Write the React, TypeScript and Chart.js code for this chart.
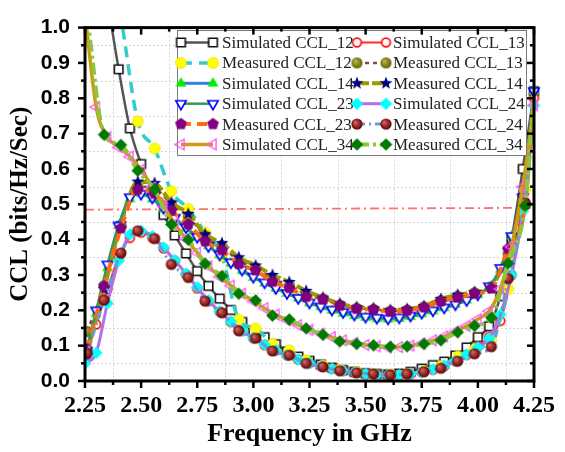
import React, { useEffect, useRef } from 'react';
import { Chart, registerables } from 'chart.js';

Chart.register(...registerables);

// ---------- data ----------
const freqSim = [2.25, 2.30, 2.35, 2.40, 2.45, 2.50, 2.55, 2.60, 2.65, 2.70, 2.75, 2.80, 2.85, 2.90, 2.95, 3.00, 3.05, 3.10, 3.15, 3.20, 3.25, 3.30, 3.35, 3.40, 3.45, 3.50, 3.55, 3.60, 3.65, 3.70, 3.75, 3.80, 3.85, 3.90, 3.95, 4.00, 4.05, 4.10, 4.15, 4.20, 4.25];
const freqMeas = [2.26, 2.335, 2.41, 2.485, 2.56, 2.635, 2.71, 2.785, 2.86, 2.935, 3.01, 3.085, 3.16, 3.235, 3.31, 3.385, 3.46, 3.535, 3.61, 3.685, 3.76, 3.835, 3.91, 3.985, 4.06, 4.135, 4.21, 4.25];

const simCCL12 = [1.5, 1.3, 1.08, 0.882, 0.715, 0.614, 0.535, 0.47, 0.412, 0.361, 0.311, 0.269, 0.233, 0.201, 0.167, 0.142, 0.124, 0.104, 0.084, 0.069, 0.057, 0.047, 0.038, 0.031, 0.026, 0.022, 0.02, 0.019, 0.021, 0.026, 0.035, 0.045, 0.055, 0.072, 0.095, 0.124, 0.155, 0.24, 0.4, 0.6, 0.82];
const simCCL13 = [0.065, 0.16, 0.26, 0.35, 0.405, 0.42, 0.405, 0.375, 0.34, 0.302, 0.262, 0.226, 0.196, 0.167, 0.142, 0.121, 0.102, 0.086, 0.073, 0.061, 0.051, 0.042, 0.035, 0.029, 0.024, 0.02, 0.017, 0.016, 0.017, 0.02, 0.025, 0.032, 0.042, 0.056, 0.074, 0.097, 0.125, 0.17, 0.3, 0.52, 0.8];
const simCCL14 = [0.065, 0.19, 0.32, 0.44, 0.515, 0.53, 0.515, 0.487, 0.458, 0.432, 0.407, 0.382, 0.357, 0.333, 0.312, 0.293, 0.277, 0.262, 0.248, 0.234, 0.221, 0.21, 0.2, 0.192, 0.185, 0.18, 0.176, 0.175, 0.177, 0.182, 0.19, 0.198, 0.207, 0.217, 0.229, 0.244, 0.266, 0.315, 0.41, 0.52, 0.82];
const simCCL23 = [0.07, 0.2, 0.33, 0.44, 0.52, 0.53, 0.519, 0.49, 0.462, 0.435, 0.408, 0.382, 0.358, 0.336, 0.315, 0.295, 0.279, 0.263, 0.249, 0.235, 0.222, 0.211, 0.202, 0.195, 0.188, 0.182, 0.179, 0.177, 0.18, 0.185, 0.193, 0.2, 0.208, 0.217, 0.229, 0.245, 0.268, 0.32, 0.41, 0.52, 0.82];
const simCCL24 = [0.05, 0.08, 0.22, 0.34, 0.415, 0.425, 0.41, 0.378, 0.342, 0.304, 0.265, 0.228, 0.197, 0.168, 0.143, 0.122, 0.103, 0.087, 0.073, 0.061, 0.051, 0.042, 0.035, 0.029, 0.024, 0.02, 0.017, 0.016, 0.017, 0.02, 0.025, 0.033, 0.043, 0.057, 0.075, 0.095, 0.12, 0.188, 0.3, 0.48, 0.78];
const simCCL34 = [1.04, 0.775, 0.69, 0.662, 0.635, 0.598, 0.548, 0.495, 0.445, 0.402, 0.363, 0.325, 0.295, 0.27, 0.247, 0.226, 0.206, 0.188, 0.172, 0.158, 0.145, 0.134, 0.124, 0.115, 0.108, 0.102, 0.098, 0.095, 0.096, 0.1, 0.106, 0.115, 0.126, 0.14, 0.156, 0.175, 0.198, 0.26, 0.38, 0.55, 0.78];

const measCCL12 = [1.6, 1.3, 1.03, 0.735, 0.658, 0.537, 0.487, 0.42, 0.354, 0.174, 0.149, 0.105, 0.087, 0.059, 0.044, 0.032, 0.025, 0.02, 0.018, 0.02, 0.028, 0.042, 0.07, 0.09, 0.115, 0.26, 0.54, 0.82];
const measCCL13 = [0.14, 0.27, 0.44, 0.55, 0.545, 0.5, 0.465, 0.41, 0.38, 0.34, 0.32, 0.29, 0.27, 0.245, 0.232, 0.215, 0.206, 0.203, 0.198, 0.201, 0.21, 0.228, 0.24, 0.25, 0.265, 0.36, 0.5, 0.82];
const measCCL14 = [0.08, 0.26, 0.446, 0.564, 0.56, 0.505, 0.473, 0.415, 0.39, 0.35, 0.327, 0.3, 0.28, 0.255, 0.236, 0.219, 0.209, 0.206, 0.201, 0.204, 0.212, 0.232, 0.244, 0.252, 0.267, 0.37, 0.5, 0.82];
const measCCL23 = [0.09, 0.268, 0.432, 0.541, 0.53, 0.482, 0.443, 0.395, 0.37, 0.331, 0.313, 0.281, 0.263, 0.238, 0.231, 0.213, 0.204, 0.202, 0.196, 0.199, 0.208, 0.225, 0.236, 0.247, 0.262, 0.374, 0.5, 0.82];
const measCCL24 = [0.078, 0.229, 0.362, 0.425, 0.403, 0.33, 0.293, 0.226, 0.193, 0.142, 0.121, 0.085, 0.073, 0.05, 0.04, 0.029, 0.023, 0.02, 0.017, 0.02, 0.026, 0.036, 0.056, 0.077, 0.097, 0.29, 0.505, 0.8];
const measCCL34 = [1.03, 0.697, 0.668, 0.595, 0.542, 0.443, 0.4, 0.332, 0.297, 0.247, 0.228, 0.185, 0.174, 0.149, 0.131, 0.112, 0.105, 0.101, 0.097, 0.098, 0.105, 0.115, 0.138, 0.156, 0.179, 0.333, 0.496, 0.8];

const thresholdFreq = [2.25, 4.25];
const thresholdCCL = [0.485, 0.49];

const xTickValues = [2.25, 2.5, 2.75, 3.0, 3.25, 3.5, 3.75, 4.0, 4.25];
const yTickValues = [0, 0.1, 0.2, 0.3, 0.4, 0.5, 0.6, 0.7, 0.8, 0.9, 1.0];

// ---------- markers ----------
function makeMarker(kind: string, fill: string | null, stroke: string | null, lw: number, R: number, shade?: [string, string]) {
  const s = Math.ceil(R * 2 + lw + 4);
  const c = document.createElement('canvas');
  c.width = s; c.height = s;
  const g = c.getContext('2d')!;
  const cx = s / 2, cy = s / 2;
  const poly = (angles: number[], radii?: number[]) => {
    angles.forEach((a, i) => {
      const r = radii ? radii[i] : R;
      const px = cx + r * Math.cos(a * Math.PI / 180);
      const py = cy + r * Math.sin(a * Math.PI / 180);
      if (i === 0) g.moveTo(px, py); else g.lineTo(px, py);
    });
    g.closePath();
  };
  g.beginPath();
  if (kind === 'circle') g.arc(cx, cy, R, 0, Math.PI * 2);
  else if (kind === 'square') g.rect(cx - R, cy - R, 2 * R, 2 * R);
  else if (kind === 'triUp') poly([-90, 30, 150]);
  else if (kind === 'triDown') poly([90, 210, 330]);
  else if (kind === 'triLeft') poly([180, 300, 60]);
  else if (kind === 'diamond') poly([-90, 0, 90, 180]);
  else if (kind === 'pentagon') poly([-90, -18, 54, 126, 198]);
  else if (kind === 'star') {
    const a: number[] = [], r: number[] = [];
    for (let i = 0; i < 10; i++) { a.push(-90 + i * 36); r.push(i % 2 === 0 ? R : R * 0.42); }
    poly(a, r);
  }
  if (fill) {
    if (shade) {
      const gr = g.createRadialGradient(cx - R * 0.35, cy - R * 0.35, R * 0.1, cx, cy, R);
      gr.addColorStop(0, shade[0]);
      gr.addColorStop(1, shade[1]);
      g.fillStyle = gr;
    } else g.fillStyle = fill;
    g.fill();
  }
  if (stroke) { g.lineWidth = lw; g.strokeStyle = stroke; g.stroke(); }
  return c;
}

const sansFont = "'Liberation Sans', Arial, sans-serif";
const serifFont = "'Liberation Serif', 'Times New Roman', serif";

export default function App() {
  const ref = useRef<HTMLCanvasElement | null>(null);

  useEffect(() => {
    document.body.style.margin = '0';
    const canvas = ref.current!;
    const mk = {
      sim12: makeMarker('square', '#ffffff', '#111111', 1.6, 4.3),
      meas12: makeMarker('circle', '#FFFF00', '#E8D800', 0.6, 5.5),
      sim13: makeMarker('circle', '#ffffff', '#FF1010', 1.8, 4.3),
      meas13: makeMarker('circle', '#808000', null, 0, 5.5, ['#B8B850', '#5E5E00']),
      sim14: makeMarker('triUp', '#00EE00', null, 0, 6.3),
      meas14: makeMarker('star', '#000080', null, 0, 6.8),
      sim23: makeMarker('triDown', '#ffffff', '#0000FF', 1.6, 6),
      sim24: makeMarker('diamond', '#00FFFF', null, 0, 6.3),
      meas23: makeMarker('pentagon', '#800080', null, 0, 6.2),
      meas24: makeMarker('circle', '#8B0000', null, 0, 5.6, ['#D86060', '#5A0000']),
      sim34: makeMarker('triLeft', null, '#FF55FF', 1.4, 6.2),
      meas34: makeMarker('diamond', '#007A00', null, 0, 6.3),
    };

    const series = [
      { label: 'Simulated CCL_12', xs: freqSim, ys: simCCL12, color: '#555555', width: 2.5, dash: [], marker: mk.sim12, meas: false },
      { label: 'Simulated CCL_13', xs: freqSim, ys: simCCL13, color: '#FF2A2A', width: 2, dash: [], marker: mk.sim13, meas: false },
      { label: 'Measured CCL_12', xs: freqMeas, ys: measCCL12, color: '#33CCCC', width: 3.5, dash: [11, 7], marker: mk.meas12, meas: true },
      { label: 'Measured CCL_13', xs: freqMeas, ys: measCCL13, color: '#8B4545', width: 2.5, dash: [4, 4], marker: mk.meas13, meas: true },
      { label: 'Simulated CCL_14', xs: freqSim, ys: simCCL14, color: '#3A7FE0', width: 3, dash: [], marker: mk.sim14, meas: false },
      { label: 'Measured CCL_14', xs: freqMeas, ys: measCCL14, color: '#9A9A00', width: 4, dash: [12, 3], marker: mk.meas14, meas: true },
      { label: 'Simulated CCL_23', xs: freqSim, ys: simCCL23, color: '#2E9B5A', width: 2.5, dash: [], marker: mk.sim23, meas: false },
      { label: 'Simulated CCL_24', xs: freqSim, ys: simCCL24, color: '#B070E8', width: 3, dash: [], marker: mk.sim24, meas: false },
      { label: 'Measured CCL_23', xs: freqMeas, ys: measCCL23, color: '#FF6A10', width: 4, dash: [10, 6], marker: mk.meas23, meas: true },
      { label: 'Measured CCL_24', xs: freqMeas, ys: measCCL24, color: '#6A9AD0', width: 3, dash: [8, 4, 2, 4], marker: mk.meas24, meas: true },
      { label: 'Simulated CCL_34', xs: freqSim, ys: simCCL34, color: '#D09A10', width: 3.5, dash: [], marker: mk.sim34, meas: false },
      { label: 'Measured CCL_34', xs: freqMeas, ys: measCCL34, color: '#8CC63F', width: 4, dash: [12, 4, 3, 4], marker: mk.meas34, meas: true },
    ];

    const datasets: any[] = series.map((s, i) => ({
      label: s.label,
      data: s.ys.map((y, k) => ({ x: s.xs[k], y })),
      borderColor: s.color,
      backgroundColor: s.color,
      borderWidth: s.width,
      borderDash: s.dash,
      pointStyle: s.marker,
      pointRadius: (c: any) => (s.meas && c.dataIndex >= s.xs.length - 1 ? 0 : 5),
      cubicInterpolationMode: 'monotone',
      clip: { left: 0, top: 0, right: 8, bottom: 8 },
      order: 100 - i,
    }));
    datasets.push({
      label: 'threshold',
      data: thresholdFreq.map((x, k) => ({ x, y: thresholdCCL[k] })),
      borderColor: '#FF7070',
      borderWidth: 1.8,
      borderDash: [9, 4, 2, 4],
      pointRadius: 0,
      clip: 0,
      order: 200,
    });

    const midpoints = (arr: number[]) => arr.slice(0, -1).map((v, i) => (v + arr[i + 1]) / 2);

    const framePlugin = {
      id: 'frame',
      beforeDatasetsDraw(chart: any) {
        const { ctx, chartArea: a, scales } = chart;
        ctx.save();
        ctx.strokeStyle = '#d6d6d6';
        ctx.lineWidth = 1;
        ctx.setLineDash([2, 2]);
        midpoints(xTickValues).forEach((v) => {
          const px = Math.round(scales.x.getPixelForValue(v)) + 0.5;
          ctx.beginPath(); ctx.moveTo(px, a.top); ctx.lineTo(px, a.bottom); ctx.stroke();
        });
        midpoints(yTickValues).forEach((v) => {
          const py = Math.round(scales.y.getPixelForValue(v)) + 0.5;
          ctx.beginPath(); ctx.moveTo(a.left, py); ctx.lineTo(a.right, py); ctx.stroke();
        });
        ctx.restore();
      },
      afterDraw(chart: any) {
        const { ctx, chartArea: a, scales } = chart;
        // legend
        const lx = 177, ly = 30, lw = 349, lh = 125;
        ctx.save();
        ctx.fillStyle = '#ffffff';
        ctx.fillRect(lx, ly, lw, lh);
        ctx.strokeStyle = '#7a7a7a';
        ctx.lineWidth = 1;
        ctx.strokeRect(lx + 0.5, ly + 0.5, lw, lh);
        const cols = [{ m1: 181, m2: 213, t: 222 }, { m1: 357, m2: 386, t: 393 }];
        ctx.font = `17px ${serifFont}`;
        ctx.textBaseline = 'middle';
        ctx.textAlign = 'left';
        series.forEach((s, i) => {
          const col = cols[i % 2];
          const yc = 42.5 + Math.floor(i / 2) * 20.4;
          ctx.save();
          ctx.strokeStyle = s.color;
          ctx.lineWidth = s.width;
          ctx.setLineDash(s.dash);
          ctx.beginPath(); ctx.moveTo(col.m1, yc); ctx.lineTo(col.m2, yc); ctx.stroke();
          ctx.restore();
          const m = s.marker;
          ctx.drawImage(m, col.m1 - m.width / 2, yc - m.height / 2);
          ctx.drawImage(m, col.m2 - m.width / 2, yc - m.height / 2);
          ctx.fillStyle = '#222222';
          ctx.fillText(s.label, col.t, yc + 1);
        });
        ctx.restore();

        // frame and ticks
        ctx.save();
        ctx.strokeStyle = '#000';
        ctx.lineWidth = 2.5;
        const tick = (x1: number, y1: number, x2: number, y2: number) => {
          ctx.beginPath(); ctx.moveTo(x1, y1); ctx.lineTo(x2, y2); ctx.stroke();
        };
        const xMinor = midpoints(xTickValues);
        const yMinor = midpoints(yTickValues);
        xTickValues.forEach((v) => {
          const px = scales.x.getPixelForValue(v);
          tick(px, a.bottom, px, a.bottom + 7);
          tick(px, a.top, px, a.top + 7);
        });
        xMinor.forEach((v) => {
          const px = scales.x.getPixelForValue(v);
          tick(px, a.bottom, px, a.bottom + 4);
          tick(px, a.top, px, a.top + 4);
        });
        yTickValues.forEach((v) => {
          const py = scales.y.getPixelForValue(v);
          tick(a.left, py, a.left - 7, py);
          tick(a.right, py, a.right - 7, py);
        });
        yMinor.forEach((v) => {
          const py = scales.y.getPixelForValue(v);
          tick(a.left, py, a.left - 4, py);
          tick(a.right, py, a.right - 4, py);
        });
        ctx.lineWidth = 3;
        ctx.strokeRect(a.left, a.top, a.right - a.left, a.bottom - a.top);
        ctx.restore();
      },
    };

    const chart = new Chart(canvas, {
      type: 'line',
      data: { datasets },
      options: {
        responsive: false,
        animation: false,
        devicePixelRatio: 1,
        layout: { padding: { top: 16, right: 28, left: 0, bottom: 0 } },
        plugins: { legend: { display: false }, tooltip: { enabled: false } },
        scales: {
          x: {
            type: 'linear',
            min: 2.25,
            max: 4.25,
            afterBuildTicks: (scale: any) => { scale.ticks = xTickValues.map((value) => ({ value })); },
            afterFit: (scale: any) => { scale.height = 71; },
            grid: { display: false, drawTicks: false },
            border: { display: false },
            ticks: {
              autoSkip: false,
              maxRotation: 0,
              padding: 10,
              color: '#000',
              font: { family: serifFont, size: 24, weight: 'bold' },
              callback: (v: any) => Number(v).toFixed(2),
            },
            title: {
              display: true,
              text: 'Frequency in GHz',
              color: '#000',
              font: { family: serifFont, size: 26, weight: 'bold' },
              padding: { top: 0, bottom: 2 },
            },
          },
          y: {
            type: 'linear',
            min: 0,
            max: 1,
            afterBuildTicks: (scale: any) => { scale.ticks = yTickValues.map((value) => ({ value })); },
            afterFit: (scale: any) => { scale.width = 85; },
            grid: { display: false, drawTicks: false },
            border: { display: false },
            ticks: {
              padding: 15,
              color: '#000',
              font: { family: sansFont, size: 21, weight: 'bold' },
              callback: (v: any) => Number(v).toFixed(1),
            },
            title: {
              display: true,
              text: 'CCL (bits/Hz/Sec)',
              color: '#000',
              font: { family: serifFont, size: 25, weight: 'bold' },
              padding: { top: 6, bottom: 0 },
            },
          },
        },
      },
      plugins: [framePlugin],
    } as any);

    return () => chart.destroy();
  }, []);

  return (
    <div style={{ width: 565, height: 452, background: '#fff' }}>
      <canvas ref={ref} width={565} height={452} style={{ display: 'block' }} />
    </div>
  );
}
